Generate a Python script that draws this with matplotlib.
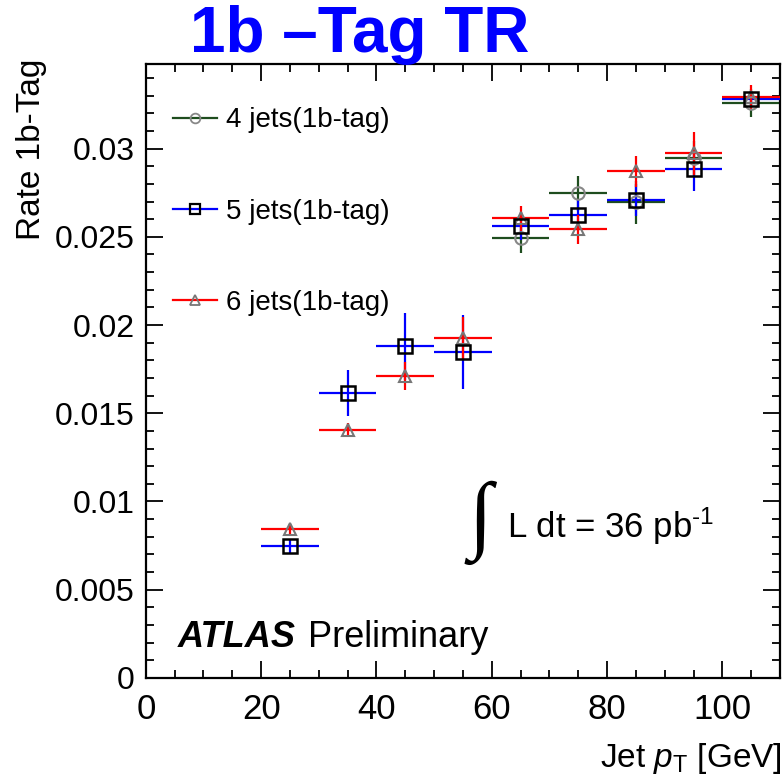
import numpy as np
import matplotlib
matplotlib.use('Agg')
import matplotlib.pyplot as plt
from matplotlib.lines import Line2D
from matplotlib.ticker import MultipleLocator

plt.rcParams['font.family'] = ['Liberation Sans', 'DejaVu Sans']
plt.rcParams['mathtext.fontset'] = 'custom'
plt.rcParams['mathtext.rm'] = 'Liberation Sans'
plt.rcParams['mathtext.it'] = 'Liberation Sans:italic'

# bin centres (GeV) and half widths
pt4 = [65, 75, 85, 95, 105]
rate4 = [0.02491, 0.02746, 0.02695, 0.02945, 0.03257]
err4 = [0.0008, 0.0010, 0.0012, 0.0010, 0.0008]

pt5 = [25, 35, 45, 55, 65, 75, 85, 95, 105]
rate5 = [0.00747, 0.01614, 0.0188, 0.01846, 0.0256, 0.02622, 0.02707, 0.02882, 0.03284]
err5 = [0.0004, 0.0013, 0.0019, 0.0021, 0.0008, 0.0009, 0.0009, 0.0012, 0.0004]

pt6 = [25, 35, 45, 55, 65, 75, 85, 95, 105]
rate6 = [0.00844, 0.01404, 0.0171, 0.01926, 0.02605, 0.02542, 0.02871, 0.02973, 0.0329]
err6 = [0.0003, 0.0004, 0.0008, 0.0012, 0.0007, 0.0008, 0.0009, 0.0012, 0.0007]

binHalf = 5

def main():
    fig = plt.figure(figsize=(7.84, 7.80), dpi=100)
    ax = fig.add_axes([0.186, 0.131, 0.809, 0.787])

    green = '#1e4d1e'
    blue = '#0000ff'
    red = '#ff0000'

    # error bars first
    ax.errorbar(pt4, rate4, xerr=binHalf, yerr=err4, fmt='none', ecolor=green, elinewidth=1.6, capsize=0, zorder=2)
    ax.errorbar(pt5, rate5, xerr=binHalf, yerr=err5, fmt='none', ecolor=blue, elinewidth=1.6, capsize=0, zorder=3)
    ax.errorbar(pt6, rate6, xerr=binHalf, yerr=err6, fmt='none', ecolor=red, elinewidth=1.6, capsize=0, zorder=4)

    # markers on top
    ax.plot(pt4, rate4, 'o', ms=9, mfc='none', mec='#888888', mew=1.5, zorder=5)
    ax.plot(pt6, rate6, '^', ms=9, mfc='none', mec='#777777', mew=1.5, zorder=6)
    ax.plot(pt5, rate5, 's', ms=9.5, mfc='none', mec='black', mew=1.8, zorder=7)

    ax.set_xlim(0, 110)
    ax.set_ylim(0, 0.0348)

    ax.xaxis.set_major_locator(MultipleLocator(20))
    ax.xaxis.set_minor_locator(MultipleLocator(5))
    ax.yaxis.set_minor_locator(MultipleLocator(0.001))
    ax.set_yticks([0, 0.005, 0.01, 0.015, 0.02, 0.025, 0.03])
    ax.set_yticklabels(['0', '0.005', '0.01', '0.015', '0.02', '0.025', '0.03'])
    ax.tick_params(which='both', direction='in', top=True, right=True, width=1.3)
    ax.tick_params(which='major', length=12)
    ax.tick_params(which='minor', length=6)
    ax.tick_params(axis='y', labelsize=23, pad=8)
    ax.tick_params(axis='x', labelsize=25, pad=11)
    for s in ax.spines.values():
        s.set_linewidth(1.6)

    fig.text(0.04, 0.925, 'Rate 1b-Tag', rotation=90, fontsize=24, ha='center', va='top')
    fig.text(0.997, 0.027, r'Jet $p_{\mathrm{T}}$ [GeV]', fontsize=24, ha='right', va='center')

    # legend
    handles = [
        Line2D([], [], color=green, lw=1.6, marker='o', ms=7, mfc='none', mec='#888888', mew=1.3),
        Line2D([], [], color=blue, lw=1.6, marker='s', ms=7, mfc='none', mec='black', mew=1.6),
        Line2D([], [], color=red, lw=1.6, marker='^', ms=7, mfc='none', mec='#777777', mew=1.3),
    ]
    labels = ['4 jets(1b-tag)', '5 jets(1b-tag)', '6 jets(1b-tag)']
    ax.legend(handles, labels, loc='upper left', bbox_to_anchor=(0.003, 0.97), frameon=False,
              fontsize=20, handlelength=1.6, handletextpad=0.3, labelspacing=2.35)

    # thin integral sign
    ax.text(0.508, 0.252, '\u222b', transform=ax.transAxes, fontsize=62, va='center', ha='left',
            family=['Liberation Serif', 'Liberation Sans'])
    ax.text(0.57, 0.247, r'L dt = 36 pb$^{\text{-1}}$', transform=ax.transAxes, fontsize=25, va='center', ha='left')

    ax.text(0.05, 0.065, 'ATLAS', transform=ax.transAxes, fontsize=26, fontweight='bold', fontstyle='italic', va='center')
    ax.text(0.256, 0.065, 'Preliminary', transform=ax.transAxes, fontsize=26, va='center')

    fig.text(0.459, 0.955, '1b \u2013Tag TR', color='#0000ff', fontsize=46, fontweight='bold', ha='center', va='center')

    fig.savefig('out.png', dpi=100)

if __name__ == "__main__":
    main()
